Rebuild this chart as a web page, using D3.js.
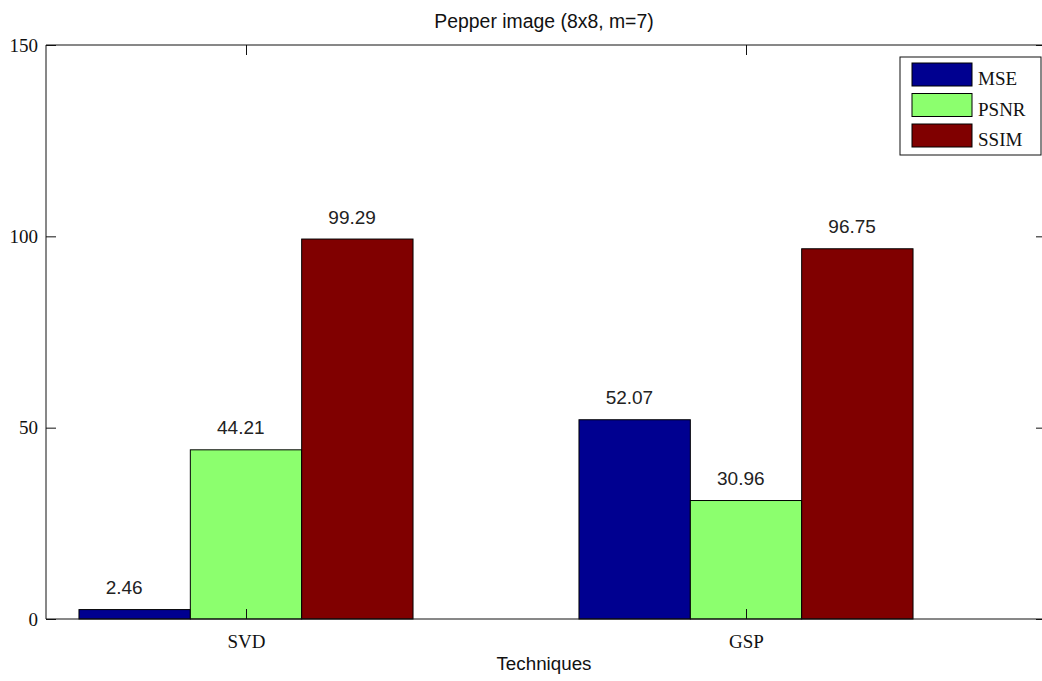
<!DOCTYPE html>
<html>
<head>
<meta charset="utf-8">
<script src="https://cdn.jsdelivr.net/npm/d3@7"></script>
<style>
  html, body { margin: 0; padding: 0; background: #fff; }
  svg { display: block; }
  .serif { font-family: "Liberation Serif", "DejaVu Serif", serif; }
  .sans { font-family: "Liberation Sans", Arial, sans-serif; }
</style>
</head>
<body>
<svg id="chart" width="1042" height="681"></svg>
<script>
// Quality metrics for the Pepper image, per reconstruction technique
const techniques = ["SVD", "GSP"];
const metrics = ["MSE", "PSNR", "SSIM"];
const mseValues = [2.46, 52.07];
const psnrValues = [44.21, 30.96];
const ssimValues = [99.29, 96.75];
const yTicks = [0, 50, 100, 150];
const colors = ["#000090", "#8cff6e", "#800000"];

const seriesValues = [mseValues, psnrValues, ssimValues];

const svg = d3.select("#chart");
const plotLeft = 46, plotRight = 1046, plotTop = 45, plotBottom = 619;

// Technique i sits at x = i + 1 on a continuous axis
const x = d3.scaleLinear().domain([0.6, 2.6]).range([plotLeft, plotRight]);
const y = d3.scaleLinear().domain([0, 150]).range([plotBottom, plotTop]);

const barW = 0.2227;                 // width of one bar in axis units
const offsets = [-barW, 0, barW];    // series offsets inside a group

// Bars
metrics.forEach((m, si) => {
  const g = svg.append("g");
  g.selectAll("rect")
    .data(seriesValues[si])
    .join("rect")
    .attr("x", (d, i) => x(i + 1 + offsets[si] - barW / 2))
    .attr("y", d => y(d))
    .attr("width", x(barW) - x(0))
    .attr("height", d => y(0) - y(d))
    .attr("fill", colors[si])
    .attr("stroke", "#000")
    .attr("stroke-width", 1);

  g.selectAll("text")
    .data(seriesValues[si])
    .join("text")
    .attr("class", "sans")
    .attr("x", (d, i) => x(i + 1 + offsets[si] - 0.058))
    .attr("y", d => y(d) - 15.5)
    .attr("font-size", 19)
    .attr("fill", "#222")
    .text(d => d.toFixed(2));
});

// Axes frame with inward ticks (MATLAB box style)
const frame = svg.append("g").attr("stroke", "#111").attr("fill", "none");
frame.append("line").attr("x1", plotLeft).attr("x2", plotLeft).attr("y1", plotTop).attr("y2", plotBottom);
frame.append("line").attr("x1", plotRight).attr("x2", plotRight).attr("y1", plotTop).attr("y2", plotBottom);
frame.append("line").attr("x1", plotLeft).attr("x2", plotRight).attr("y1", plotTop).attr("y2", plotTop);
frame.append("line").attr("x1", plotLeft).attr("x2", plotRight).attr("y1", plotBottom).attr("y2", plotBottom);

const axisL = d3.axisLeft(y).tickValues(yTicks).tickSize(-10).tickPadding(18);
const gl = svg.append("g").attr("transform", `translate(${plotLeft},0)`).call(axisL);
const axisR = d3.axisRight(y).tickValues(yTicks).tickSize(-10).tickFormat("");
const gr = svg.append("g").attr("transform", `translate(${plotRight},0)`).call(axisR);
const axisT = d3.axisTop(x).tickValues([1, 2]).tickSize(-10).tickFormat("");
const gt = svg.append("g").attr("transform", `translate(0,${plotTop})`).call(axisT);
const axisB = d3.axisBottom(x).tickValues([1, 2])
  .tickFormat((d, i) => techniques[i]).tickSize(-10).tickPadding(16);
const gb = svg.append("g").attr("transform", `translate(0,${plotBottom})`).call(axisB);

[gl, gr, gt, gb].forEach(g => {
  g.select(".domain").remove();
  g.selectAll(".tick line").attr("stroke", "#111");
  g.selectAll("text").attr("class", "serif").attr("font-size", 19).attr("fill", "#111");
});
gl.selectAll("text").attr("dx", 10);

// Title and axis label
svg.append("text").attr("class", "sans")
  .attr("x", (plotLeft + plotRight) / 2 - 2).attr("y", 28)
  .attr("text-anchor", "middle").attr("font-size", 19.4).attr("fill", "#111")
  .text("Pepper image (8x8, m=7)");
svg.append("text").attr("class", "sans")
  .attr("x", (plotLeft + plotRight) / 2 - 2).attr("y", 670)
  .attr("text-anchor", "middle").attr("font-size", 18.8).attr("fill", "#111")
  .text("Techniques");

// Legend
const lg = svg.append("g").attr("transform", "translate(900,57)");
lg.append("rect").attr("width", 141).attr("height", 98)
  .attr("fill", "#fff").attr("stroke", "#111");
metrics.forEach((m, i) => {
  lg.append("rect").attr("x", 12).attr("y", 6 + i * 30.5)
    .attr("width", 60).attr("height", 23)
    .attr("fill", colors[i]).attr("stroke", "#000");
  lg.append("text").attr("class", "serif")
    .attr("x", 78).attr("y", 28 + i * 30.5)
    .attr("font-size", 19).attr("fill", "#111")
    .text(m);
});
</script>
</body>
</html>
